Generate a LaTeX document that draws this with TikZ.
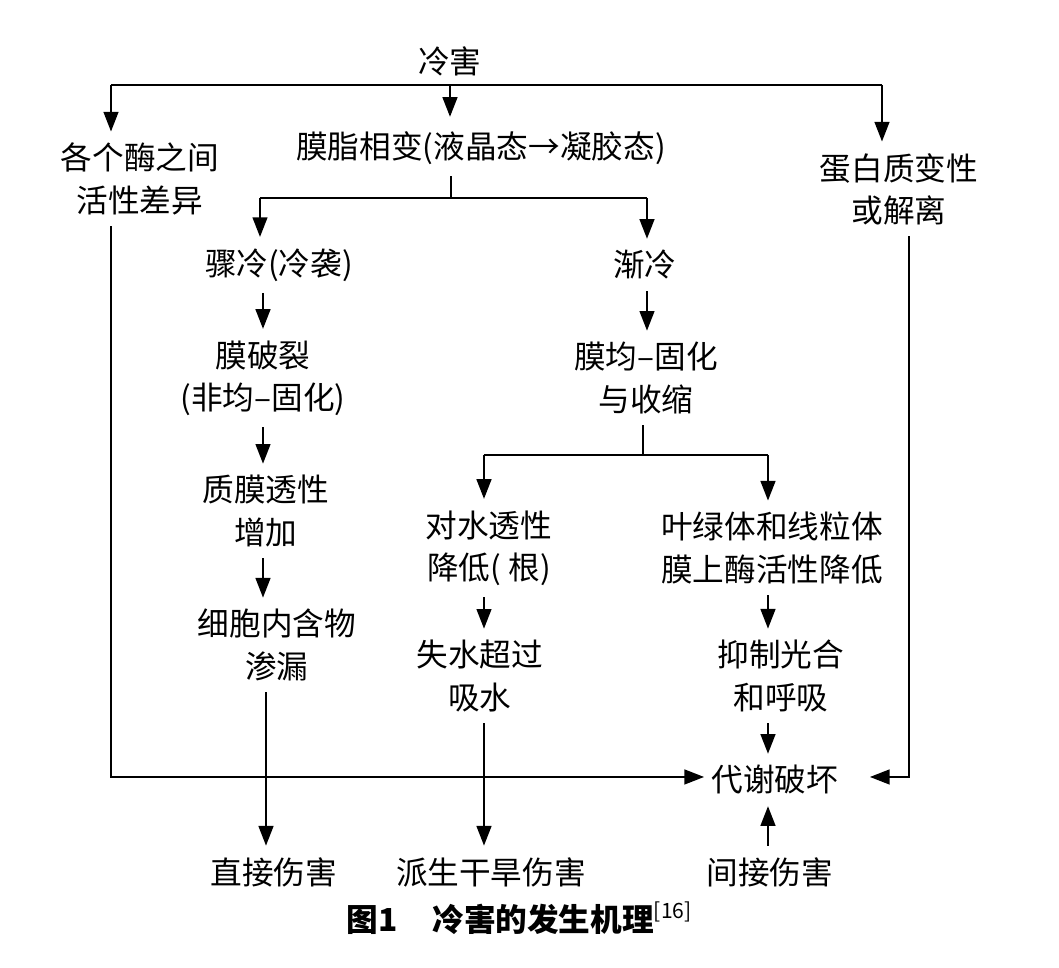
\documentclass[tikz,border=0pt]{standalone}
\usepackage{fontspec}
\setmainfont{Noto Sans CJK SC}
\usetikzlibrary{arrows.meta}
\tikzset{
  lbl/.style={align=center, inner sep=3pt, font=\fontsize{9}{12}\selectfont},
  flow/.style={->, line width=0.6pt},
}
\begin{document}
\begin{tikzpicture}[x=0.01cm, y=-0.01cm, line width=0.6pt, >={Triangle[length=5.6pt,width=4.2pt]}]
\useasboundingbox (0,0) rectangle (1059,968);
% --- Top level ---
\node[lbl] (cold) at (450,61) {冷害};
\node[lbl] (enz) at (140,179) {各个酶之间\\活性差异};
\node[lbl] (lipid) at (481,148) {膜脂相变(液晶态→凝胶态)};
\node[lbl] (prot) at (899,189) {蛋白质变性\\或解离};
\coordinate (tl) at (111,85); \coordinate (tr) at (882,85);
\draw (tl) -- (tr);
\draw[flow] (tl) -- (enz.north -| tl);
\draw[flow] (cold |- tl) -- ([yshift=0.03cm]lipid.north -| cold);
\draw[flow] (tr) -- (prot.north -| tr);
% --- Split: sudden / gradual ---
\node[lbl] (sudden) at (279,265) {骤冷(冷袭)};
\node[lbl] (gradual) at (645,265) {渐冷};
\coordinate (sm) at (451,198); \coordinate (sl) at (260,198); \coordinate (sr) at (647,198);
\draw (lipid.south -| sm) -- (sm);
\draw (sl) -- (sr);
\draw[flow] (sl) -- (sudden.north -| sl);
\draw[flow] (sr) -- (gradual.north -| sr);
% --- Left column ---
\coordinate (ca) at (263,0);
\node[lbl] (rupture) at (263,378) {膜破裂\\(非均–固化)};
\node[lbl] (perm) at (266,511) {质膜透性\\增加};
\node[lbl] (leak) at (277,645) {细胞内含物\\渗漏};
\node[lbl] (direct) at (274,872) {直接伤害};
\draw[flow] (sudden.south -| ca) -- (rupture.north -| ca);
\draw[flow] (rupture.south -| ca) -- (perm.north -| ca);
\draw[flow] (perm.south -| ca) -- (leak.north -| ca);
\draw[flow] ([xshift=0.03cm]leak.south -| ca) -- ([xshift=0.03cm]direct.north -| ca);
% --- Right branch ---
\node[lbl] (solid) at (646,378) {膜均–固化\\与收缩};
\draw[flow] (gradual.south -| sr) -- (solid.north -| sr);
\coordinate (gm) at (643,455); \coordinate (gl) at (484,455); \coordinate (gr) at (768,455);
\draw (solid.south -| gm) -- (gm);
\draw (gl) -- (gr);
\node[lbl] (water) at (489,548) {对水透性\\降低( 根)};
\node[lbl] (chloro) at (772,548) {叶绿体和线粒体\\膜上酶活性降低};
\draw[flow] (gl) -- (water.north -| gl);
\draw[flow] (gr) -- (chloro.north -| gr);
\node[lbl] (loss) at (480,676) {失水超过\\吸水};
\node[lbl] (inhib) at (781,676) {抑制光合\\和呼吸};
\node[lbl] (drought) at (491,872) {派生干旱伤害};
\draw[flow] (water.south -| gl) -- (loss.north -| gl);
\draw[flow] (loss.south -| gl) -- (drought.north -| gl);
% --- Metabolic damage ---
\node[lbl] (meta) at (775,780) {代谢破坏};
\node[lbl] (indirect) at (770,872) {间接伤害};
\draw[flow] (chloro.south -| gr) -- (inhib.north -| gr);
\draw[flow] (inhib.south -| gr) -- (meta.north -| gr);
\draw[flow] (indirect.north -| gr) -- (meta.south -| gr);
\coordinate (rv) at (909,0);
\draw[flow] (enz.south -| tl) |- ([yshift=0.03cm,xshift=0.04cm]meta.west);
\draw[flow] (prot.south -| rv) |- ([yshift=0.03cm,xshift=0.2cm]meta.east);
% --- Caption ---
\node[font=\fontsize{9}{11}\selectfont\bfseries] (cap) at (520,918) {图1\hspace{1.1em}冷害的发生机理\textsuperscript{\mdseries[16]}};
\end{tikzpicture}
\end{document}
